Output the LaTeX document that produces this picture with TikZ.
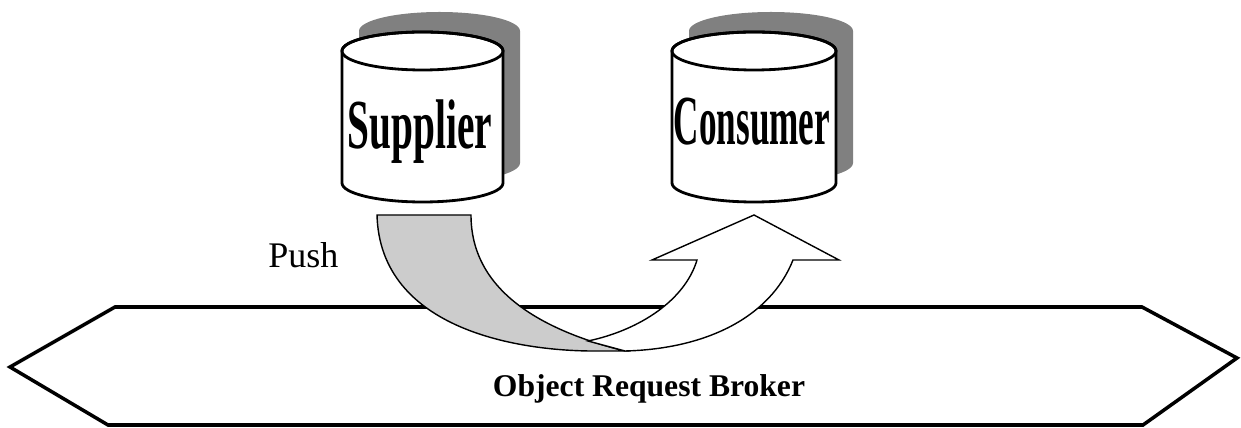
\documentclass[tikz,border=0pt]{standalone}
\usepackage{fontspec}
\setmainfont{Liberation Serif}
\begin{document}
\begin{tikzpicture}[x=0.02cm,y=-0.02cm,
  orbshape/.style={draw=black,fill=white,line width=2pt,line join=miter},
  cylbody/.style={draw=black,fill=white,line width=1.6pt},
  cylshadow/.style={fill=gray,draw=none},
  grayband/.style={draw=black,fill=black!20,line width=0.8pt},
  whiteband/.style={draw=black,fill=white,line width=0.8pt,line join=miter},
  cyltext/.style={font=\fontsize{40}{40}\selectfont\bfseries,inner sep=0pt},
  plaintext/.style={font=\fontsize{20.5}{22}\selectfont,inner sep=0pt},
  orbtext/.style={font=\fontsize{18}{20}\selectfont\bfseries,inner sep=0pt}]
\useasboundingbox (0,0) rectangle (1241,428);
% broker
\draw[orbshape] (10,367) -- (115,307) -- (1142,307) -- (1237,358) -- (1143,425) -- (108,425) -- cycle;
\node[orbtext,anchor=base] (orb) at (649,397) {Object Request Broker};
% supplier cylinder
\path[cylshadow] (359,31) -- (359,163) arc[start angle=180,end angle=0,x radius=80.5,y radius=19] -- (520,31) arc[start angle=0,end angle=-180,x radius=80.5,y radius=19] -- cycle;
\path[cylbody] (342,51) -- (342,183) arc[start angle=180,end angle=0,x radius=80.5,y radius=19] -- (503,51) arc[start angle=0,end angle=-180,x radius=80.5,y radius=19] -- cycle;
\draw[line width=1.6pt] (422.5,51) ellipse[x radius=80.5,y radius=19];
\node[cyltext] (supplier) at (420,132) {\scalebox{0.56}[1]{Supplier}};
% consumer cylinder
\path[cylshadow] (689,31) -- (689,163) arc[start angle=180,end angle=0,x radius=82,y radius=19] -- (853,31) arc[start angle=0,end angle=-180,x radius=82,y radius=19] -- cycle;
\path[cylbody] (672,51) -- (672,183) arc[start angle=180,end angle=0,x radius=82,y radius=19] -- (836,51) arc[start angle=0,end angle=-180,x radius=82,y radius=19] -- cycle;
\draw[line width=1.6pt] (754,51) ellipse[x radius=82,y radius=19];
\node[cyltext] (consumer) at (752,122) {\scalebox{0.5}[1]{Consumer}};
% push arrow
\path[grayband] (377,215) -- (471,215) .. controls (471,290) and (540,330) .. (625,351) -- (600,351) .. controls (520,352) and (380,330) .. (377,215) -- cycle;
\path[whiteband] (625,351) .. controls (705,349) and (770,318) .. (793,260) -- (839,260) -- (754,215) -- (652,260) -- (697,260) .. controls (685,300) and (640,330) .. (588,341) -- cycle;
\node[plaintext,anchor=base west] (push) at (268,268) {Push};
\end{tikzpicture}
\end{document}
